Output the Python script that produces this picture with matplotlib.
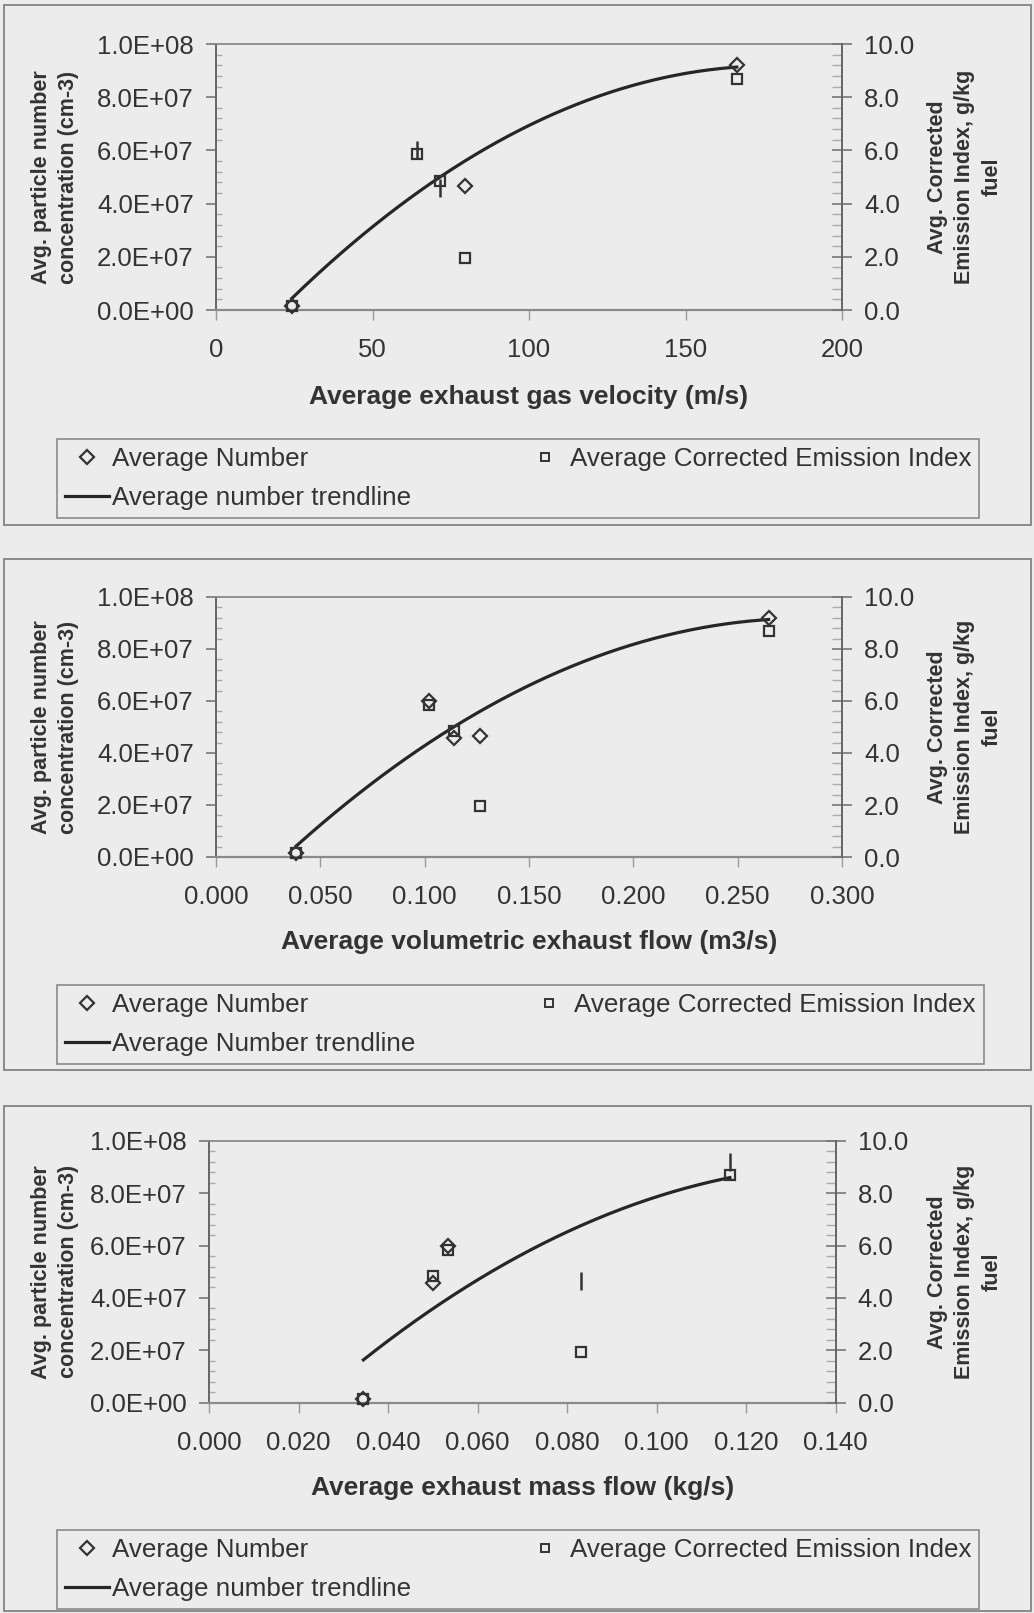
import numpy as np
import matplotlib
matplotlib.use("Agg")
import matplotlib.pyplot as plt
from matplotlib.lines import Line2D
from matplotlib.patches import Rectangle
from matplotlib.ticker import MultipleLocator, FuncFormatter

# Five operating points, shown against three different exhaust measures
gas_velocity = [24.2, 64.1, 71.6, 79.7, 166.4]              # m/s
volumetric_flow = [0.0385, 0.1022, 0.1141, 0.1265, 0.2648]  # m3/s
mass_flow = [0.0345, 0.0535, 0.0501, 0.0831, 0.1164]        # kg/s

avg_number = [0.15e7, 6.0e7, 4.57e7, 4.65e7, 9.2e7]         # particles per cm3
avg_corrected_ei = [0.15, 5.85, 4.85, 1.95, 8.7]            # g/kg fuel

# marker used for each Average Number point in each panel
velocity_markers = ["D", "|", "|", "D", "D"]
volumetric_markers = ["D", "D", "D", "D", "D"]
mass_markers = ["D", "D", "D", "|", "|"]

x_titles = ["Average exhaust gas velocity (m/s)",
            "Average volumetric exhaust flow (m3/s)",
            "Average exhaust mass flow (kg/s)"]
trend_labels = ["Average number trendline",
                "Average Number trendline",
                "Average number trendline"]
left_title = "Avg. particle number\nconcentration (cm-3)"
right_title = "Avg. Corrected\nEmission Index, g/kg\nfuel"
number_label = "Average Number"
ei_label = "Average Corrected Emission Index"

BG = "#ececec"
INK = "#333333"
W, H = 1034, 1613

plt.rcParams["font.family"] = ["Liberation Sans", "DejaVu Sans"]
plt.rcParams["text.color"] = INK
plt.rcParams["axes.labelcolor"] = INK

fig = plt.figure(figsize=(W / 100, H / 100), dpi=100, facecolor=BG)


def px_rect(x0, y0, x1, y1):
    """pixel box (top-left origin) -> figure fraction [l, b, w, h]"""
    return [x0 / W, 1 - y1 / H, (x1 - x0) / W, (y1 - y0) / H]


def panel(box, frame, legend_xy, xdata, xmax, xstep, xfmt, xtitle,
          markers, trend_label, ylab_x, y2lab_x):
    # outer frame around the whole panel
    fx0, fy0, fx1, fy1 = frame
    fig.add_artist(Rectangle((fx0 / W, 1 - fy1 / H), (fx1 - fx0) / W,
                             (fy1 - fy0) / H, transform=fig.transFigure,
                             fill=False, edgecolor="#8a8a8a", lw=1.4))

    ax = fig.add_axes(px_rect(*box), facecolor=BG)
    ax2 = ax.twinx()

    ax.set_xlim(0, xmax)
    ax.set_ylim(0, 1e8)
    ax2.set_ylim(0, 10)

    # trendline: second order polynomial fit of the number series
    coef = np.polyfit(xdata, avg_number, 2)
    xs = np.linspace(min(xdata), max(xdata), 200)
    ax.plot(xs, np.polyval(coef, xs), color="#262626", lw=2.3, zorder=3)

    for xv, yv, m in zip(xdata, avg_number, markers):
        if m == "D":
            ax.plot(xv, yv, marker="D", ms=7.5, mfc="none", mec=INK,
                    mew=1.6, ls="none", zorder=4, clip_on=False)
        else:
            ax.plot(xv, yv, marker="|", ms=13, mec=INK, mew=1.8,
                    ls="none", zorder=4, clip_on=False)

    ax2.plot(xdata, avg_corrected_ei, marker="s", ms=7.4, mfc="none",
             mec=INK, mew=1.6, ls="none", zorder=4, clip_on=False)

    # axes styling
    ax.xaxis.set_major_locator(MultipleLocator(xstep))
    ax.xaxis.set_major_formatter(FuncFormatter(lambda v, p: xfmt.format(v)))
    ax.yaxis.set_major_locator(MultipleLocator(2e7))
    ax.yaxis.set_minor_locator(MultipleLocator(0.4e7))
    ax.yaxis.set_major_formatter(FuncFormatter(lambda v, p: "{:.1E}".format(v)))
    ax2.yaxis.set_major_locator(MultipleLocator(2))
    ax2.yaxis.set_minor_locator(MultipleLocator(0.4))
    ax2.yaxis.set_major_formatter(FuncFormatter(lambda v, p: "{:.1f}".format(v)))

    ax.tick_params(axis="x", direction="out", length=7, width=1.0,
                   color="#9a9a9a", pad=13.5, labelsize=18.5, labelcolor=INK)
    ax.tick_params(axis="y", which="major", direction="out", length=7,
                   width=1.2, color="#777777", pad=9, labelsize=18.5,
                   labelcolor=INK)
    ax.tick_params(axis="y", which="minor", direction="in", length=4,
                   width=1.0, color="#aaaaaa")
    ax2.tick_params(axis="y", which="major", direction="inout", length=14,
                    width=1.2, color="#777777", pad=9, labelsize=18.5,
                    labelcolor=INK)
    ax2.tick_params(axis="y", which="minor", direction="in", length=7,
                    width=1.0, color="#aaaaaa")

    for s in ("left", "right"):
        ax.spines[s].set_color("#666666")
        ax.spines[s].set_linewidth(1.4)
    ax.spines["right"].set_visible(False)
    ax.spines["top"].set_color("#8a8a8a")
    ax.spines["top"].set_linewidth(1.3)
    ax.spines["bottom"].set_color("#8a8a8a")
    ax.spines["bottom"].set_linewidth(1.6)
    for s in ("left", "top", "bottom"):
        ax2.spines[s].set_visible(False)
    ax2.spines["right"].set_color("#666666")
    ax2.spines["right"].set_linewidth(1.4)

    ax.set_xlabel(xtitle, fontsize=19, fontweight="bold", va="center")
    ax.xaxis.set_label_coords(0.5, -0.327)
    ax.set_ylabel(left_title, fontsize=15.5, fontweight="bold", va="center",
                  ha="center", linespacing=1.4)
    ax.yaxis.set_label_coords(ylab_x, 0.5)
    ax2.set_ylabel(right_title, fontsize=15.5, fontweight="bold",
                   va="center", ha="center", rotation=90, linespacing=1.4)
    ax2.yaxis.set_label_coords(y2lab_x, 0.5)

    handles = [
        Line2D([], [], marker="D", ms=7.0, mfc="none", mec=INK, mew=1.6,
               ls="none"),
        Line2D([], [], color="#262626", lw=2.3),
        Line2D([], [], marker="s", ms=6.0, mfc="none", mec=INK, mew=1.4,
               ls="none"),
    ]
    labels = [number_label, trend_label, ei_label]
    leg = fig.legend(handles, labels, loc="upper left",
                     bbox_to_anchor=(legend_xy[0] / W, 1 - legend_xy[1] / H),
                     bbox_transform=fig.transFigure, ncol=2, fontsize=18.7,
                     frameon=True, fancybox=False, edgecolor="#8a8a8a",
                     facecolor=BG, framealpha=1, handlelength=1.7,
                     handletextpad=0.12, columnspacing=4.3, borderpad=0.3,
                     labelspacing=0.6, borderaxespad=0, labelcolor=INK)
    leg.get_frame().set_linewidth(1.2)
    return ax, ax2


panel((216, 44, 842, 310), (4, 5, 1031, 525), (57, 439),
      gas_velocity, 200, 50, "{:.0f}", x_titles[0], velocity_markers,
      trend_labels[0], -0.257, 1.196)
panel((216, 597, 842, 857), (4, 559, 1031, 1070), (57, 985),
      volumetric_flow, 0.3, 0.05, "{:.3f}", x_titles[1], volumetric_markers,
      trend_labels[1], -0.257, 1.196)
panel((209, 1141, 835.5, 1402.5), (4, 1106, 1031, 1611), (57, 1530),
      mass_flow, 0.14, 0.02, "{:.3f}", x_titles[2], mass_markers,
      trend_labels[2], -0.246, 1.206)

fig.savefig("out.png", dpi=100, facecolor=BG)
